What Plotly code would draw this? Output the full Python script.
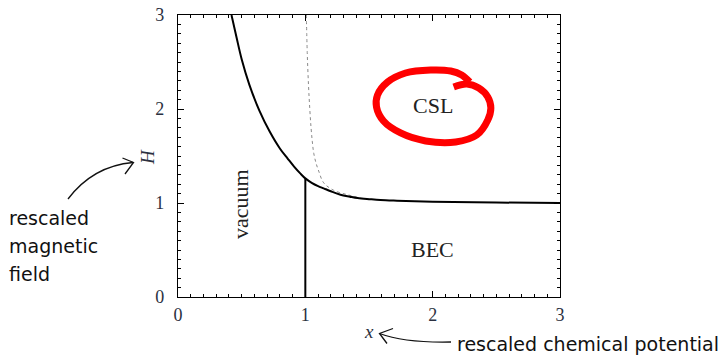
import plotly.graph_objects as go

# ---------------- data ----------------
# solid phase boundary (vacuum/CSL for x<1, CSL/BEC for x>1)
solid_x = [0.42, 0.46, 0.50, 0.56, 0.64, 0.72, 0.80, 0.86, 0.91, 0.96, 1.00,
           1.05, 1.10, 1.144, 1.20, 1.276, 1.35, 1.41, 1.51, 1.59, 1.72, 2.00, 2.50, 3.00]
solid_H = [3.00, 2.76, 2.53, 2.26, 1.98, 1.76, 1.58, 1.475, 1.39, 1.315, 1.262,
           1.215, 1.18, 1.156, 1.125, 1.088, 1.067, 1.052, 1.040, 1.032, 1.025, 1.014, 1.005, 1.00]

# vacuum/BEC boundary
vert_x = [1.0, 1.0]
vert_H = [0.0, 1.262]

# dotted guide curve
dot_x = [1.008, 1.015, 1.025, 1.035, 1.045, 1.055, 1.066, 1.085, 1.105, 1.144,
         1.223, 1.34, 1.43, 1.50]
dot_H = [3.00, 2.60, 2.25, 2.00, 1.80, 1.65, 1.53, 1.42, 1.34, 1.215,
         1.135, 1.085, 1.053, 1.042]

# hand-drawn red loop around "CSL"
loop_x = [2.291, 2.228, 2.142, 1.984, 1.787, 1.646, 1.567, 1.559, 1.614, 1.748,
          1.945, 2.181, 2.346, 2.433, 2.457, 2.433, 2.362, 2.268, 2.165]
loop_H = [2.287, 2.362, 2.404, 2.415, 2.383, 2.287, 2.149, 2.021, 1.872, 1.745,
          1.660, 1.649, 1.723, 1.883, 2.011, 2.128, 2.223, 2.266, 2.234]

x_ticks = [0, 1, 2, 3]
H_ticks = [0, 1, 2, 3]

# ---------------- layout constants ----------------
W, Hpx = 719, 360
ML, MR, MT, MB = 178, 719 - 560, 15, 360 - 297
PW, PH = W - ML - MR, Hpx - MT - MB


def px(xp, yp):
    """pixel -> paper coordinates"""
    return (xp - ML) / PW, (Hpx - MB - yp) / PH


serif = "Liberation Serif"
sans = "DejaVu Sans"
tickcol = "#2b3040"

fig = go.Figure()
fig.add_trace(go.Scatter(x=dot_x, y=dot_H, mode="lines",
                         line=dict(color="#8a8a8a", width=1, dash="dot", shape="spline"),
                         hoverinfo="skip"))
fig.add_trace(go.Scatter(x=solid_x, y=solid_H, mode="lines",
                         line=dict(color="black", width=2, shape="spline"),
                         hoverinfo="skip"))
fig.add_trace(go.Scatter(x=vert_x, y=vert_H, mode="lines",
                         line=dict(color="black", width=2), hoverinfo="skip"))
fig.add_trace(go.Scatter(x=loop_x, y=loop_H, mode="lines",
                         line=dict(color="#ff0000", width=7, shape="spline"),
                         hoverinfo="skip"))

axis_common = dict(
    showline=True, linecolor="black", linewidth=1.3, mirror="allticks",
    ticks="inside", ticklen=6, tickwidth=1, tickcolor="black",
    showgrid=False, zeroline=False, automargin=False,
    tickfont=dict(family=serif, size=18, color=tickcol),
    minor=dict(dtick=0.1, ticks="inside", ticklen=3, tickwidth=1, tickcolor="black"),
)
fig.update_xaxes(range=[0, 3], tickvals=x_ticks, ticktext=[str(v) for v in x_ticks],
                 ticklabelstandoff=1, **axis_common)
fig.update_yaxes(range=[0, 3], tickvals=H_ticks, ticktext=[str(v) for v in H_ticks],
                 ticklabelstandoff=9, **axis_common)

C = dict(xanchor="center", yanchor="middle", showarrow=False)
ann = []
# region labels
ann.append(dict(x=2.0, y=2.04, xref="x", yref="y", text="CSL",
                font=dict(family=serif, size=22, color="#222"), **C))
ann.append(dict(x=2.0, y=0.51, xref="x", yref="y", text="BEC",
                font=dict(family=serif, size=22, color="#222"), **C))
ann.append(dict(x=0.496, y=0.99, xref="x", yref="y", text="vacuum", textangle=-90,
                font=dict(family=serif, size=22, color="#222"), **C))
# axis titles
hx, hy = px(147, 157)
ann.append(dict(x=hx, y=hy, xref="paper", yref="paper", text="<i>H</i>", textangle=-90,
                font=dict(family=serif, size=19, color=tickcol), **C))
xx, xy = px(369, 331)
ann.append(dict(x=xx, y=xy, xref="paper", yref="paper", text="<i>x</i>",
                font=dict(family=serif, size=19, color=tickcol), **C))
# side notes
for txt, yp in [("rescaled", 218), ("magnetic", 246), ("field", 274)]:
    ax_, ay_ = px(7, yp)
    ann.append(dict(x=ax_, y=ay_, xref="paper", yref="paper", text=txt, showarrow=False,
                    xanchor="left", yanchor="middle",
                    font=dict(family=sans, size=19, color="#111")))
bx, by = px(455, 344)
ann.append(dict(x=bx, y=by, xref="paper", yref="paper", text="rescaled chemical potential",
                showarrow=False, xanchor="left", yanchor="middle",
                font=dict(family=sans, size=19, color="#111")))


def path_px(cmds):
    out = []
    for c in cmds:
        if isinstance(c, str):
            out.append(c)
        else:
            a, b = px(*c)
            out.append(f"{a:.5f},{b:.5f}")
    return " ".join(out)


shapes = []
arrow_line = dict(color="#111", width=1.3)
# left curved arrow
shapes.append(dict(type="path", xref="paper", yref="paper", line=arrow_line,
                   path=path_px(["M", (68, 199), "Q", (93, 166), (133, 162.5)])))
shapes.append(dict(type="path", xref="paper", yref="paper", line=arrow_line,
                   path=path_px(["M", (122.5, 158), "L", (133.5, 162.5), "L", (125, 174)])))
# bottom curved arrow
shapes.append(dict(type="path", xref="paper", yref="paper", line=arrow_line,
                   path=path_px(["M", (379.5, 333.5), "Q", (405, 343), (451, 342)])))
shapes.append(dict(type="path", xref="paper", yref="paper", line=arrow_line,
                   path=path_px(["M", (393, 328.5), "L", (379.5, 333.5), "L", (387, 343.5)])))

fig.update_layout(
    width=W, height=Hpx,
    margin=dict(l=ML, r=MR, t=MT, b=MB, pad=0, autoexpand=False),
    paper_bgcolor="white", plot_bgcolor="white",
    showlegend=False,
    annotations=ann, shapes=shapes,
)

fig.write_html("out.html")
